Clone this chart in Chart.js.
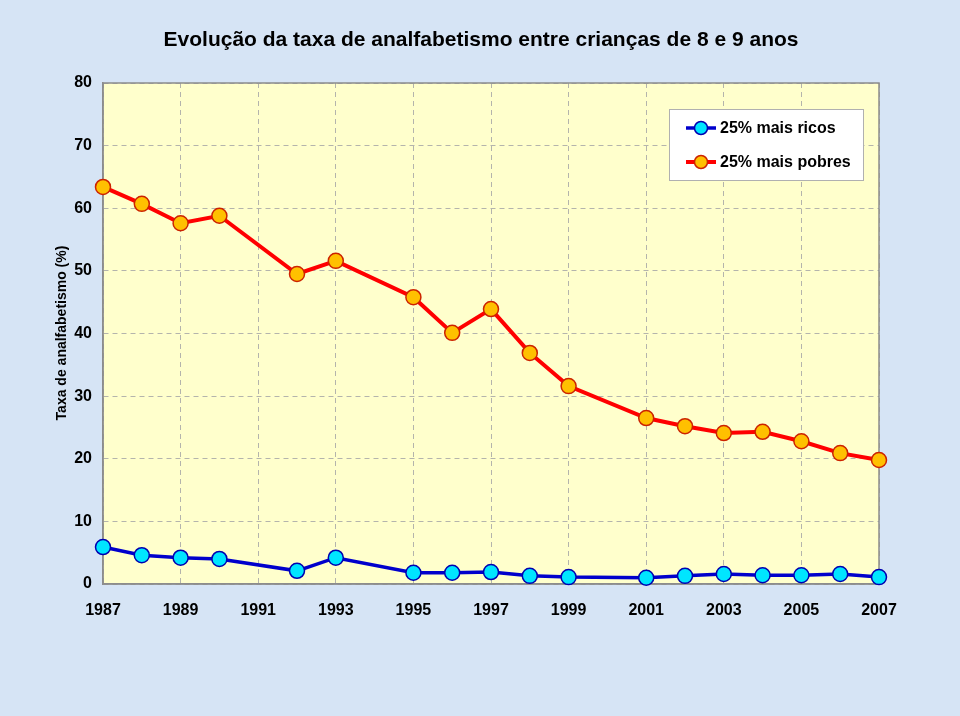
<!DOCTYPE html>
<html>
<head>
<meta charset="utf-8">
<script src="https://cdn.jsdelivr.net/npm/chart.js@4/dist/chart.umd.min.js"></script>
<style>
    html, body { margin: 0; padding: 0; background: #d6e4f5; }
    #wrap { width: 960px; height: 716px; position: relative; }
</style>
</head>
<body>
<div id="wrap"><canvas id="chart" width="960" height="716"></canvas></div>
<script>
// Data
const years = [1987, 1988, 1989, 1990, 1992, 1993, 1995, 1996, 1997, 1998, 1999, 2001, 2002, 2003, 2004, 2005, 2006, 2007];
const ricos = [5.9, 4.6, 4.2, 4.0, 2.1, 4.2, 1.8, 1.8, 1.9, 1.3, 1.1, 1.0, 1.3, 1.6, 1.4, 1.4, 1.6, 1.1];
const pobres = [63.4, 60.7, 57.6, 58.8, 49.5, 51.6, 45.8, 40.1, 43.9, 36.9, 31.6, 26.5, 25.2, 24.1, 24.3, 22.8, 20.9, 19.8];
const seriesNames = ['25% mais ricos', '25% mais pobres'];
const titleText = 'Evolução da taxa de analfabetismo entre crianças de 8 e 9 anos';
const yTitle = 'Taxa de analfabetismo (%)';

const FONT = 'Arial, "Liberation Sans", sans-serif';

const toPoints = vals => vals.map((v, i) => ({ x: years[i], y: v }));

// Plot background, frame, title, axis title and the boxed legend
const decor = {
    id: 'decor',
    beforeDraw(chart) {
        const { ctx, chartArea: a } = chart;
        ctx.save();
        ctx.fillStyle = '#d6e4f5';
        ctx.fillRect(0, 0, chart.width, chart.height);
        ctx.fillStyle = '#ffffcc';
        ctx.fillRect(a.left, a.top, a.right - a.left, a.bottom - a.top);
        ctx.restore();
    },
    beforeDatasetsDraw(chart) {
        const { ctx, chartArea: a } = chart;
        ctx.save();
        ctx.strokeStyle = '#8c8c8c';
        ctx.lineWidth = 1.5;
        ctx.strokeRect(a.left, a.top, a.right - a.left, a.bottom - a.top);
        ctx.restore();
    },
    afterDraw(chart) {
        const { ctx } = chart;
        ctx.save();
        ctx.fillStyle = '#000';
        ctx.font = 'bold 21px ' + FONT;
        ctx.textAlign = 'center';
        ctx.textBaseline = 'middle';
        ctx.fillText(titleText, 481, 40);

        ctx.translate(62, 333);
        ctx.rotate(-Math.PI / 2);
        ctx.font = 'bold 14px ' + FONT;
        ctx.fillText(yTitle, 0, 0);
        ctx.restore();

        // legend box
        ctx.save();
        ctx.fillStyle = '#ffffff';
        ctx.strokeStyle = '#b0b0b0';
        ctx.lineWidth = 1;
        ctx.fillRect(669.5, 109.5, 194, 71);
        ctx.strokeRect(669.5, 109.5, 194, 71);
        const rows = [128, 162];
        chart.data.datasets.forEach((ds, i) => {
            const y = rows[i];
            ctx.strokeStyle = ds.borderColor;
            ctx.lineWidth = ds.borderWidth;
            ctx.beginPath();
            ctx.moveTo(686, y);
            ctx.lineTo(716, y);
            ctx.stroke();
            ctx.beginPath();
            ctx.arc(701, y, 6.5, 0, Math.PI * 2);
            ctx.fillStyle = ds.pointBackgroundColor;
            ctx.fill();
            ctx.lineWidth = 1.5;
            ctx.strokeStyle = ds.pointBorderColor;
            ctx.stroke();
            ctx.fillStyle = '#000';
            ctx.font = 'bold 16px ' + FONT;
            ctx.textAlign = 'left';
            ctx.textBaseline = 'middle';
            ctx.fillText(ds.label, 720, y + 1);
        });
        ctx.restore();
    }
};

new Chart(document.getElementById('chart'), {
    type: 'line',
    data: {
        datasets: [{
            label: seriesNames[0],
            data: toPoints(ricos),
            borderColor: '#0000cc',
            borderWidth: 3.5,
            pointRadius: 7.5,
            pointBackgroundColor: '#00e5ff',
            pointBorderColor: '#0000b0',
            pointBorderWidth: 1.5,
            tension: 0
        }, {
            label: seriesNames[1],
            data: toPoints(pobres),
            borderColor: '#ff0000',
            borderWidth: 4,
            pointRadius: 7.5,
            pointBackgroundColor: '#ffc000',
            pointBorderColor: '#cc2200',
            pointBorderWidth: 1.5,
            tension: 0
        }]
    },
    options: {
        responsive: false,
        animation: false,
        clip: false,
        layout: { padding: { top: 83, right: 81, left: 0, bottom: 0 } },
        plugins: {
            legend: { display: false },
            title: { display: false },
            tooltip: { enabled: false }
        },
        scales: {
            x: {
                type: 'linear',
                min: 1987,
                max: 2007,
                afterFit(scale) { scale.height = 132; },
                grid: { color: '#b4b4ac', lineWidth: 1, drawTicks: false },
                border: { display: true, color: '#8c8c8c', width: 1.5, dash: [5, 4] },
                ticks: {
                    stepSize: 2,
                    padding: 17,
                    color: '#000',
                    font: { family: FONT, size: 16, weight: 'bold' },
                    callback: v => String(v)
                }
            },
            y: {
                min: 0,
                max: 80,
                afterFit(scale) { scale.width = 103; },
                grid: { color: '#b4b4ac', lineWidth: 1, drawTicks: false },
                border: { display: true, color: '#8c8c8c', width: 1.5, dash: [5, 4] },
                ticks: {
                    stepSize: 10,
                    padding: 11,
                    color: '#000',
                    font: { family: FONT, size: 16, weight: 'bold' }
                }
            }
        }
    },
    plugins: [decor]
});
</script>
</body>
</html>
